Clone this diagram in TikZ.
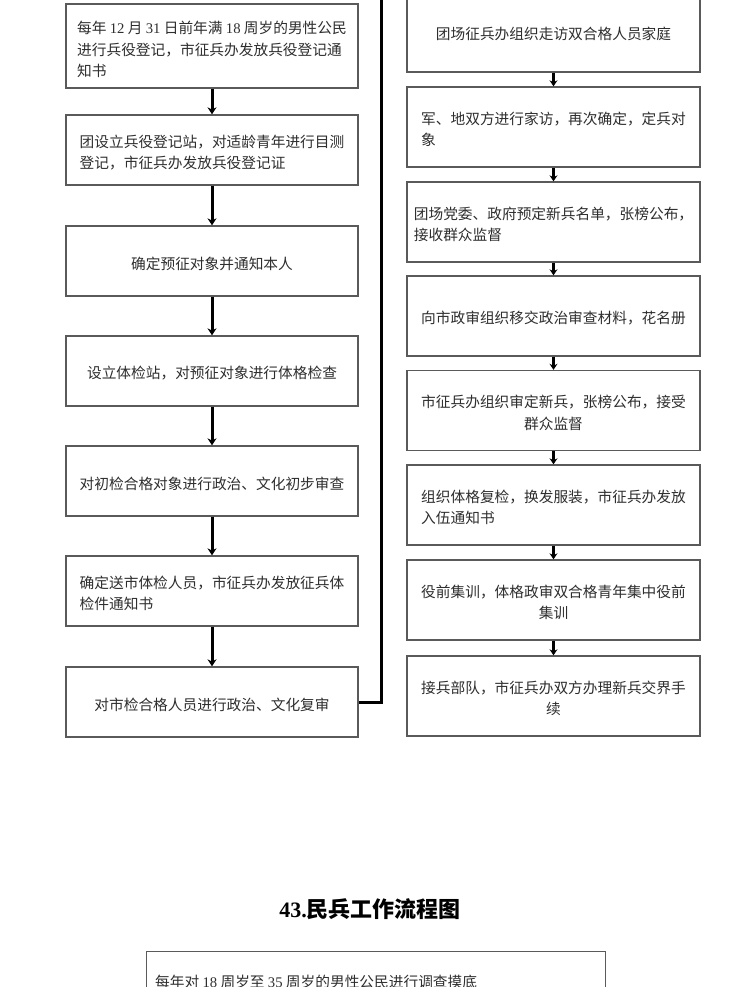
\documentclass[tikz,border=0pt]{standalone}
\usepackage{fontspec}
\setmainfont{Noto Sans CJK SC}
\newfontfamily\numfont{Liberation Serif}
\usetikzlibrary{arrows.meta}
\newcommand{\nm}[1]{{\numfont #1}}
\definecolor{boxline}{HTML}{5A5A5A}
\definecolor{txt}{HTML}{2E2E2E}
\tikzset{
  flowbox/.style={draw=boxline, line width=1.4pt, minimum width=292pt, inner sep=0pt},
  lbox/.style={flowbox, minimum height=70pt},
  rbox/.style={flowbox, minimum width=293pt, minimum height=80pt},
  boxtext/.style={text=txt, inner sep=0pt, font=\fontsize{14.7}{21.5}\selectfont},
  larrow/.style={line width=3pt, -{Stealth[length=7pt,width=9pt]}},
  rarrow/.style={line width=2.4pt, -{Stealth[length=6pt,width=8pt]}},
  link/.style={line width=3pt}
}
\begin{document}
\begin{tikzpicture}[x=1pt,y=-1pt]
\useasboundingbox (0,0) rectangle (730,987);
\clip (0,0) rectangle (730,987);
\fill[white] (0,0) rectangle (730,987);
% left column boxes
\node[lbox, minimum height=84pt] (L1) at (212,46) {};
\node[lbox] (L2) at (212,150) {};
\node[lbox] (L3) at (212,261) {};
\node[lbox] (L4) at (212,371) {};
\node[lbox] (L5) at (212,481) {};
\node[lbox] (L6) at (212,591) {};
\node[lbox] (L7) at (212,702) {};
% left column texts
\node[boxtext, align=left] (L1t) at ([yshift=-3.5pt]L1.center) {每年 \nm{12} 月 \nm{31} 日前年满 \nm{18} 周岁的男性公民\\进行兵役登记，市征兵办发放兵役登记通\\知书};
\node[boxtext, align=left] (L2t) at ([yshift=-2.5pt]L2.center) {团设立兵役登记站，对适龄青年进行目测\\登记，市征兵办发放兵役登记证};
\node[boxtext] (L3t) at ([yshift=-2.5pt]L3.center) {确定预征对象并通知本人};
\node[boxtext] (L4t) at ([yshift=-2.5pt]L4.center) {设立体检站，对预征对象进行体格检查};
\node[boxtext] (L5t) at ([yshift=-2.5pt]L5.center) {对初检合格对象进行政治、文化初步审查};
\node[boxtext, align=left] (L6t) at ([yshift=-2.5pt]L6.center) {确定送市体检人员，市征兵办发放征兵体\\检件通知书};
\node[boxtext] (L7t) at ([yshift=-2.5pt]L7.center) {对市检合格人员进行政治、文化复审};
\foreach \a/\b in {L1/L2,L2/L3,L3/L4,L4/L5,L5/L6,L6/L7}
  \draw[larrow] (\a.south) -- (\b.north);
% right column boxes
\node[rbox, minimum height=90pt] (R1) at (553.5,27) {};
\node[rbox] (R2) at (553.5,127) {};
\node[rbox] (R3) at (553.5,222) {};
\node[rbox] (R4) at (553.5,316) {};
\node[rbox] (R5) at (553.5,410.5) {};
\node[rbox] (R6) at (553.5,505) {};
\node[rbox] (R7) at (553.5,600) {};
\node[rbox] (R8) at (553.5,696) {};
% right column texts
\node[boxtext] (R1t) at (553.5,34) {团场征兵办组织走访双合格人员家庭};
\node[boxtext, align=left] (R2t) at ([yshift=-2.5pt]R2.center) {军、地双方进行家访，再次确定，定兵对\\象};
\node[boxtext, align=left] (R3t) at ([yshift=-2.5pt]R3.center) {团场党委、政府预定新兵名单，张榜公布，\\接收群众监督};
\node[boxtext] (R4t) at ([yshift=-2.5pt]R4.center) {向市政审组织移交政治审查材料，花名册};
\node[boxtext, align=center] (R5t) at ([yshift=-2.5pt]R5.center) {市征兵办组织审定新兵，张榜公布，接受\\群众监督};
\node[boxtext, align=left] (R6t) at ([yshift=-2.5pt]R6.center) {组织体格复检，换发服装，市征兵办发放\\入伍通知书};
\node[boxtext, align=center] (R7t) at ([yshift=-2.5pt]R7.center) {役前集训，体格政审双合格青年集中役前\\集训};
\node[boxtext, align=center] (R8t) at ([yshift=-2.5pt]R8.center) {接兵部队，市征兵办双方办理新兵交界手\\续};
\foreach \a/\b in {R1/R2,R2/R3,R3/R4,R4/R5,R5/R6,R6/R7,R7/R8}
  \draw[rarrow] (\a.south) -- (\b.north);
% link from previous page
\coordinate (ctop) at (381,-2);
\draw[link] (ctop) |- (L7.east);
% title and next chart
\node[font=\fontsize{22}{26}\selectfont\bfseries, text=black] (title) at (370,909) {{\numfont\bfseries 43.}民兵工作流程图};
\node[flowbox, minimum width=459pt, minimum height=80pt, anchor=north west] (B1) at (146,951) {};
\node[boxtext, anchor=west] (B1t) at (155,982) {每年对 \nm{18} 周岁至 \nm{35} 周岁的男性公民进行调查摸底};
\end{tikzpicture}
\end{document}
